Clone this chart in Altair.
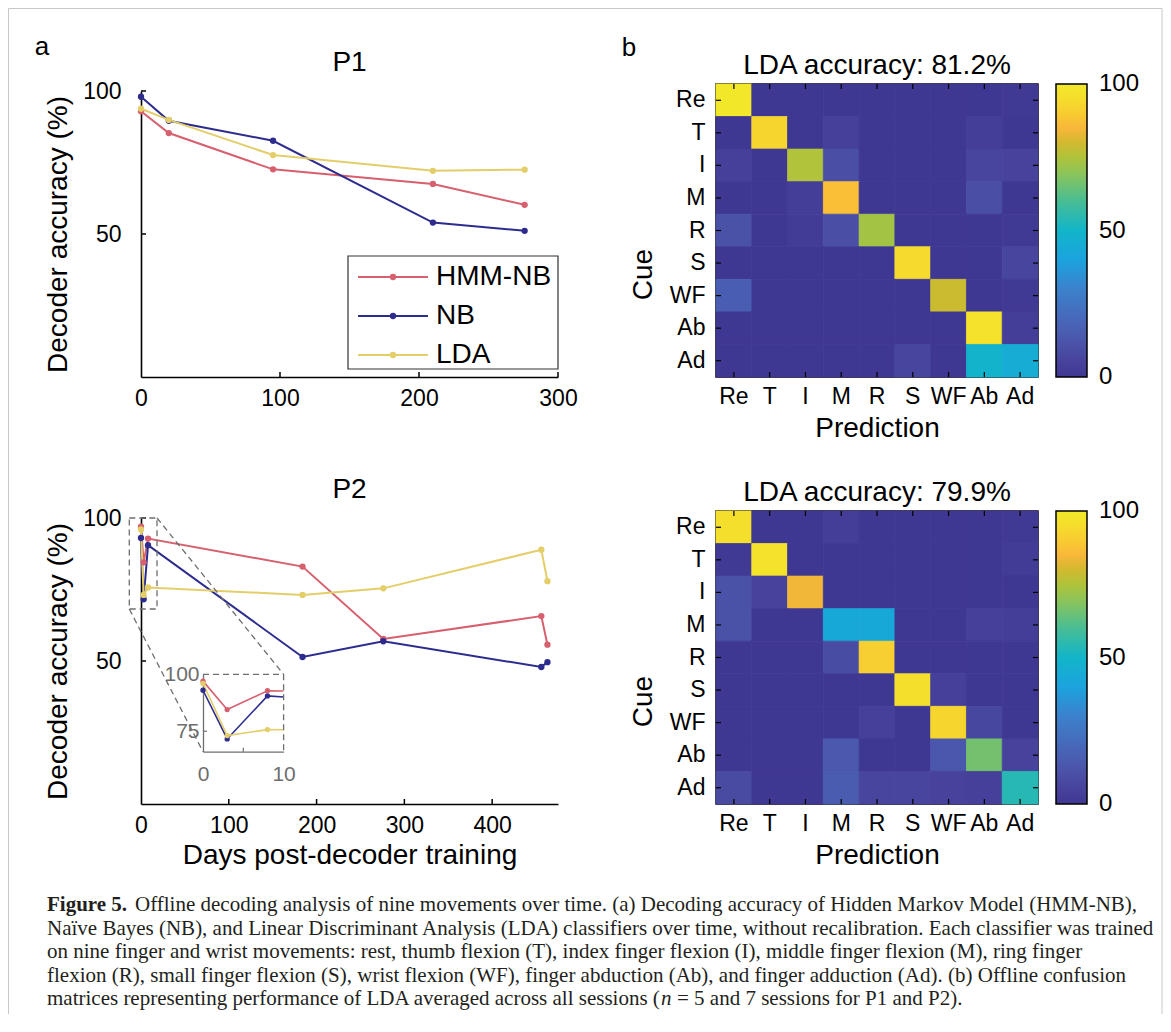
import altair as alt
import pandas as pd

# ---------------- data ----------------
MODELS = ["HMM-NB", "NB", "LDA"]
MODEL_COLORS = ["#D6606E", "#2D2C8E", "#E3CE6A"]

P1_DAYS = [0, 20, 95, 210, 276]
P1_HMM = [92.9, 85.3, 72.6, 67.5, 60.2]
P1_NB = [98.0, 89.6, 82.6, 54.0, 51.1]
P1_LDA = [93.8, 89.9, 77.6, 72.1, 72.5]

P2_DAYS = [0, 3, 8, 184, 276, 456, 463]
P2_HMM = [97.0, 84.5, 92.8, 83.0, 57.7, 65.7, 55.7]
P2_NB = [93.0, 71.6, 90.5, 51.4, 56.9, 47.9, 49.6]
P2_LDA = [96.0, 73.1, 75.7, 73.1, 75.4, 88.9, 77.9]

CATS = ["Re", "T", "I", "M", "R", "S", "WF", "Ab", "Ad"]
P1_CM = [
    [99, 0, 0, 0, 0, 0, 0, 0, 1],
    [0, 93, 0, 4, 0, 0, 0, 3, 0],
    [4, 0, 75, 10, 0, 0, 0, 6, 5],
    [0, 0, 3, 87, 0, 0, 0, 10, 0],
    [11, 0, 2, 10, 73, 0, 0, 0, 1],
    [0, 0, 0, 0, 0, 94, 0, 0, 6],
    [16, 0, 0, 0, 0, 0, 79, 0, 1],
    [0, 0, 0, 0, 0, 0, 0, 97, 3],
    [0, 0, 0, 0, 0, 6, 0, 49, 45],
]
P2_CM = [
    [96, 0, 0, 3, 0, 0, 0, 0, 1],
    [1, 97, 0, 0, 0, 0, 0, 0, 2],
    [11, 5, 84, 0, 0, 0, 0, 0, 0],
    [11, 0, 0, 43, 43, 0, 0, 4, 3],
    [0, 0, 0, 9, 91, 0, 0, 0, 0],
    [0, 0, 0, 0, 0, 96, 4, 0, 0],
    [0, 0, 0, 0, 4, 0, 93, 7, 0],
    [0, 0, 0, 14, 0, 0, 13, 66, 5],
    [8, 0, 0, 15, 6, 6, 5, 4, 54],
]
P1_CM_TITLE = "LDA accuracy: 81.2%"
P2_CM_TITLE = "LDA accuracy: 79.9%"

# parula-like colour map (end stops nudged a hair outside 0..100 so the
# colour-bar labels 0 and 100 sit centred on the bar ends)
CBAR_STOPS = [-0.01, 5, 10, 15, 20, 30, 40, 50, 60, 70, 75, 80, 85, 90, 95, 100.01]
CBAR_COLORS = ["#3F3893", "#47429C", "#4A4FA5", "#4A5CB0", "#4768BA", "#3B81CC",
               "#1BA3DE", "#12B5C9", "#48BD94", "#8FC456", "#B0C33A", "#D2B92F",
               "#F9B73A", "#F8CC31", "#F5DD2C", "#F2EA2A"]

CAPTION_BOLD = "Figure 5."
CAPTION_L0 = "Offline decoding analysis of nine movements over time. (a) Decoding accuracy of Hidden Markov Model (HMM-NB),"
CAPTION_MID = [
    "Naïve Bayes (NB), and Linear Discriminant Analysis (LDA) classifiers over time, without recalibration. Each classifier was trained",
    "on nine finger and wrist movements: rest, thumb flexion (T), index finger flexion (I), middle finger flexion (M), ring finger",
    "flexion (R), small finger flexion (S), wrist flexion (WF), finger abduction (Ab), and finger adduction (Ad). (b) Offline confusion",
]
CAPTION_L4A = "matrices representing performance of LDA averaged across all sessions ("
CAPTION_L4B = "n"
CAPTION_L4C = "= 5 and 7 sessions for P1 and P2)."

# ---------------- layout / style ----------------
FONT = "Liberation Sans"
SERIF = "Liberation Serif"
GRAY = "#6E6E6E"
LW, LH = 417, 293
HW, HH = 322, 293
ROW_GAP, COL_GAP = 134, 158
YTOP = 7
A_X, A_Y = 141, 84            # page position of first panel origin
E_X, E_Y = A_X, A_Y + 2 * (LH + ROW_GAP)

INSET_X0, INSET_X1 = 62, 142.6
INSET_YT, INSET_YB = 163.3, 240.7

COLOR = alt.Color("model:N", scale=alt.Scale(domain=MODELS, range=MODEL_COLORS), legend=None)
ONE = pd.DataFrame({"k": [0]})


def ax(**kw):
    base = dict(labelFont=FONT, titleFont=FONT, labelColor="black", titleColor="black",
                labelFontSize=23, titleFontSize=28, titleFontWeight="normal", grid=False,
                ticks=False, tickSize=0, domainColor="black", domainWidth=1.6)
    base.update(kw)
    return alt.Axis(**base)


def title(t):
    return alt.TitleParams(t, font=FONT, fontSize=28, fontWeight="normal", color="black",
                           offset=3, frame="group", anchor="middle")


def model_df(days, hmm, nb, lda):
    n = len(days)
    return pd.DataFrame({"day": list(days) * 3,
                         "acc": list(hmm) + list(nb) + list(lda),
                         "model": ["HMM-NB"] * n + ["NB"] * n + ["LDA"] * n})


def main_layers(df, xdomain, xvals, xtitle):
    xs = alt.Scale(domain=xdomain, nice=False, zero=False)
    ys = alt.Scale(domain=[0, 100], range=[LH, YTOP], nice=False, zero=False)
    x = alt.X("day:Q", scale=xs, axis=ax(values=xvals, title=xtitle, labelPadding=10,
                                          titlePadding=4, labelFlush=False, format="d"))
    y = alt.Y("acc:Q", scale=ys, axis=ax(values=[50, 100], title="Decoder accuracy (%)",
                                          labelPadding=20, titlePadding=10))
    base = alt.Chart(df)
    lines = base.mark_line(strokeWidth=2).encode(x=x, y=y, color=COLOR)
    pts = base.mark_point(filled=True, size=40, opacity=1).encode(x="day:Q", y="acc:Q", color=COLOR)
    xt = alt.Chart(pd.DataFrame({"day": [v for v in xvals if v > 0]})).mark_rule(
        color="black", strokeWidth=1.5).encode(x="day:Q", y=alt.value(LH), y2=alt.value(LH - 5))
    yt = alt.Chart(pd.DataFrame({"acc": [50, 100]})).mark_rule(
        color="black", strokeWidth=1.5).encode(y="acc:Q", x=alt.value(0), x2=alt.value(5))
    return [lines, pts, xt, yt]


# ---------- panel a, P1 ----------
p1df = model_df(P1_DAYS, P1_HMM, P1_NB, P1_LDA)
main1 = alt.layer(*main_layers(p1df, [0, 300], [0, 100, 200, 300], None))

leg_df = pd.DataFrame({"model": MODELS})
ly = alt.Y("model:N", scale=alt.Scale(type="point", domain=MODELS, range=[193, 271], padding=0), axis=None)
leg_box = alt.Chart(ONE).mark_rect(fill="white", stroke="#333333", strokeWidth=1.2).encode(
    x=alt.value(207), x2=alt.value(LW), y=alt.value(172), y2=alt.value(285))
leg_line = alt.Chart(leg_df).mark_rule(strokeWidth=2).encode(y=ly, x=alt.value(217), x2=alt.value(287), color=COLOR)
leg_dot = alt.Chart(leg_df).mark_point(filled=True, size=40, opacity=1).encode(y=ly, x=alt.value(252), color=COLOR)
leg_txt = alt.Chart(leg_df).mark_text(align="left", baseline="middle", font=FONT, fontSize=28,
                                      color="black").encode(y=ly, x=alt.value(295), text="model:N")
legend1 = alt.layer(leg_box, leg_line, leg_dot, leg_txt)

panelA = alt.layer(main1, legend1).resolve_scale(y="independent").properties(
    width=LW, height=LH, title=title("P1"))

# ---------- panel a, P2 ----------
p2df = model_df(P2_DAYS, P2_HMM, P2_NB, P2_LDA)
dash = [6, 4]
zoom_box = alt.Chart(ONE).mark_rect(fillOpacity=0, stroke=GRAY, strokeWidth=1.3, strokeDash=dash).encode(
    x=alt.value(-11.7), x2=alt.value(16), y=alt.value(7), y2=alt.value(98))
conn1 = alt.Chart(ONE).mark_rule(color=GRAY, strokeWidth=1.3, strokeDash=dash).encode(
    x=alt.value(16), y=alt.value(7), x2=alt.value(INSET_X1), y2=alt.value(INSET_YT))
conn2 = alt.Chart(ONE).mark_rule(color=GRAY, strokeWidth=1.3, strokeDash=dash).encode(
    x=alt.value(-11.7), y=alt.value(98), x2=alt.value(INSET_X0), y2=alt.value(INSET_YB))
main2 = alt.layer(*main_layers(p2df, [0, 475], [0, 100, 200, 300, 400], "Days post-decoder training"),
                  zoom_box, conn1, conn2)

inset_src = (alt.Chart(p2df)
             .transform_window(prev_day="lag(day)", prev_acc="lag(acc)", groupby=["model"],
                               sort=[alt.SortField("day", order="ascending")])
             .transform_filter("datum.day <= 10 || datum.prev_day <= 10")
             .transform_calculate(
                 cday="datum.day <= 10 ? datum.day : 10",
                 cacc="datum.day <= 10 ? datum.acc : datum.prev_acc + (datum.acc - datum.prev_acc) * (10 - datum.prev_day) / (datum.day - datum.prev_day)"))
iax = dict(labelColor=GRAY, domainColor=GRAY, domainWidth=1.3, labelFontSize=21, title=None)
ix = alt.X("cday:Q", scale=alt.Scale(domain=[0, 10], range=[INSET_X0, INSET_X1], nice=False, zero=False),
           axis=ax(orient="bottom", offset=-(LH - INSET_YB), values=[0, 10], labelFlush=False,
                   labelPadding=12, **iax))
iy = alt.Y("cacc:Q", scale=alt.Scale(domain=[66, 100], range=[INSET_YB, INSET_YT], nice=False, zero=False),
           axis=ax(orient="left", offset=-INSET_X0, values=[75, 100], labelPadding=4, **iax))
in_lines = inset_src.mark_line(strokeWidth=1.6).encode(x=ix, y=iy, color=COLOR)
in_pts = inset_src.transform_filter("datum.day <= 10").mark_point(filled=True, size=28, opacity=1).encode(
    x="cday:Q", y="cacc:Q", color=COLOR)
in_xt = alt.Chart(pd.DataFrame({"cday": [5]})).mark_rule(color=GRAY, strokeWidth=1.2).encode(
    x="cday:Q", y=alt.value(INSET_YB), y2=alt.value(INSET_YB - 4))
in_yt = alt.Chart(pd.DataFrame({"cacc": [75]})).mark_rule(color=GRAY, strokeWidth=1.2).encode(
    y="cacc:Q", x=alt.value(INSET_X0), x2=alt.value(INSET_X0 + 4))
in_top = alt.Chart(ONE).mark_rule(color=GRAY, strokeWidth=1.3, strokeDash=dash).encode(
    x=alt.value(INSET_X0), x2=alt.value(INSET_X1), y=alt.value(INSET_YT))
in_right = alt.Chart(ONE).mark_rule(color=GRAY, strokeWidth=1.3, strokeDash=dash).encode(
    x=alt.value(INSET_X1), y=alt.value(INSET_YT), y2=alt.value(INSET_YB))
inset = alt.layer(in_lines, in_pts, in_xt, in_yt, in_top, in_right)

panelC = alt.layer(main2, inset).resolve_scale(x="independent", y="independent").properties(
    width=LW, height=LH, title=title("P2"))


# ---------- panel b heatmaps ----------
def heatmap(cm, t):
    rows = [{"cue": CATS[i], "pred": CATS[j], "value": cm[i][j]} for i in range(9) for j in range(9)]
    df = pd.DataFrame(rows)
    x = alt.X("pred:N", scale=alt.Scale(domain=CATS, paddingInner=0, paddingOuter=0),
              axis=ax(title="Prediction", labelAngle=0, domain=False, labelPadding=8, titlePadding=6))
    y = alt.Y("cue:N", scale=alt.Scale(domain=CATS, paddingInner=0, paddingOuter=0),
              axis=ax(title="Cue", domain=False, labelPadding=11, titlePadding=12, titleY=190))
    cscale = alt.Scale(domain=CBAR_STOPS, range=CBAR_COLORS, interpolate="rgb")
    color = alt.Color("value:Q", scale=cscale,
                      legend=alt.Legend(title=None, orient="right", offset=18, padding=0,
                                        direction="vertical", gradientLength=HH, gradientThickness=31,
                                        gradientStrokeColor="black", gradientStrokeWidth=1.5,
                                        values=[0, 50, 100], labelFontSize=24, labelOffset=12,
                                        labelColor="black", labelFont=FONT))
    stroke = alt.Stroke("value:Q", scale=cscale, legend=None)
    cells = alt.Chart(df).mark_rect(strokeWidth=0.8).encode(x=x, y=y, color=color, stroke=stroke)
    tdf = pd.DataFrame({"cue": CATS, "pred": CATS})
    tk = dict(color="black", strokeWidth=1.2)
    left = alt.Chart(tdf).mark_rule(**tk).encode(y="cue:N", x=alt.value(0), x2=alt.value(5))
    right = alt.Chart(tdf).mark_rule(**tk).encode(y="cue:N", x=alt.value(HW), x2=alt.value(HW - 5))
    bottom = alt.Chart(tdf).mark_rule(**tk).encode(x="pred:N", y=alt.value(HH), y2=alt.value(HH - 5))
    top = alt.Chart(tdf).mark_rule(**tk).encode(x="pred:N", y=alt.value(0), y2=alt.value(5))
    return alt.layer(cells, left, right, bottom, top).properties(
        width=HW, height=HH, title=title(t), view=alt.ViewBackground(stroke="black", strokeWidth=1.5))


panelB = heatmap(P1_CM, P1_CM_TITLE)
panelD = heatmap(P2_CM, P2_CM_TITLE)


# ---------- caption, panel letters and figure frame ----------
def rx(v):
    return v - E_X


def ry(v):
    return v - E_Y


CAP_Y0, CAP_STEP, CAP_FS, CAP_X = 905, 23.5, 21, 47
cap_y = alt.Y("line:O", scale=alt.Scale(type="point", domain=[0, 1, 2, 3, 4],
                                        range=[ry(CAP_Y0), ry(CAP_Y0 + 4 * CAP_STEP)], padding=0), axis=None)
ctext = dict(align="left", baseline="middle", font=SERIF, fontSize=CAP_FS, color="#231F20")

cap_bold = alt.Chart(pd.DataFrame({"line": [0], "text": [CAPTION_BOLD]})).mark_text(
    fontWeight="bold", **ctext).encode(y=cap_y, x=alt.value(rx(CAP_X)), text="text:N")
cap_l0 = alt.Chart(pd.DataFrame({"line": [0], "text": [CAPTION_L0]})).mark_text(**ctext).encode(
    y=cap_y, x=alt.value(rx(CAP_X) + 88), text="text:N")
cap_mid = alt.Chart(pd.DataFrame({"line": [1, 2, 3], "text": CAPTION_MID})).mark_text(**ctext).encode(
    y=cap_y, x=alt.value(rx(CAP_X)), text="text:N")
cap_l4a = alt.Chart(pd.DataFrame({"line": [4], "text": [CAPTION_L4A]})).mark_text(**ctext).encode(
    y=cap_y, x=alt.value(rx(CAP_X)), text="text:N")
cap_l4b = alt.Chart(pd.DataFrame({"line": [4], "text": [CAPTION_L4B]})).mark_text(
    fontStyle="italic", **ctext).encode(y=cap_y, x=alt.value(rx(CAP_X) + 614), text="text:N")
cap_l4c = alt.Chart(pd.DataFrame({"line": [4], "text": [CAPTION_L4C]})).mark_text(**ctext).encode(
    y=cap_y, x=alt.value(rx(CAP_X) + 630), text="text:N")

FRAME = "#C8C8C8"
fr_left = alt.Chart(ONE).mark_rule(color=FRAME, strokeWidth=1).encode(
    x=alt.value(rx(8.5)), y=alt.value(ry(8.5)), y2=alt.value(ry(1014)))
fr_top = alt.Chart(ONE).mark_rule(color=FRAME, strokeWidth=1).encode(
    x=alt.value(rx(8.5)), x2=alt.value(rx(1162)), y=alt.value(ry(8.5)))
fr_right = alt.Chart(ONE).mark_rule(color=FRAME, strokeWidth=1).encode(
    x=alt.value(rx(1162)), y=alt.value(ry(8.5)), y2=alt.value(ry(1014)))
let_a = alt.Chart(ONE).mark_text(text="a", font=FONT, fontSize=26, color="black", align="center",
                                 baseline="alphabetic").encode(x=alt.value(rx(42)), y=alt.value(ry(55)))
let_b = alt.Chart(ONE).mark_text(text="b", font=FONT, fontSize=26, color="black", align="center",
                                 baseline="alphabetic").encode(x=alt.value(rx(629)), y=alt.value(ry(56)))

panelE = alt.layer(fr_left, fr_top, fr_right, let_a, let_b,
                   cap_bold, cap_l0, cap_mid, cap_l4a, cap_l4b, cap_l4c).properties(width=LW, height=60)

chart = alt.concat(panelA, panelB, panelC, panelD, panelE, columns=2,
                   spacing={"row": ROW_GAP, "column": COL_GAP}, bounds="flush", align="all").properties(
    padding=0).configure(font=FONT).configure_view(strokeWidth=0)

chart.save("out.html", embed_options={"renderer": "svg", "actions": False})
